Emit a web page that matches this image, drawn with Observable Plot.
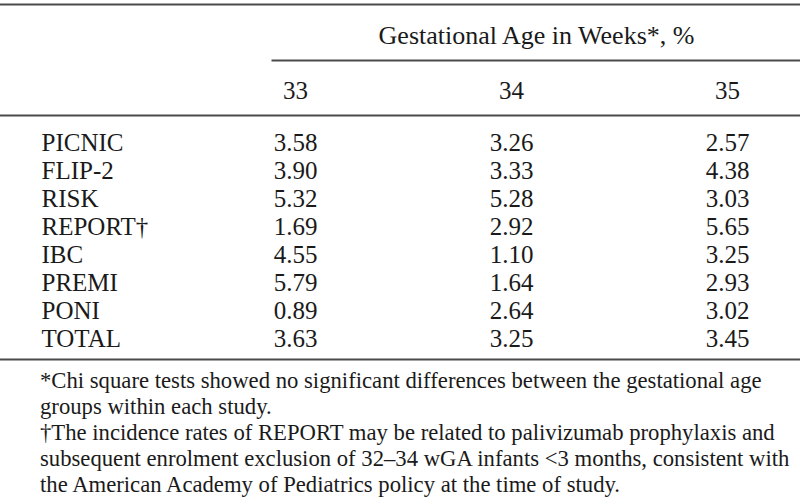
<!DOCTYPE html>
<html>
<head>
<meta charset="utf-8">
<script src="https://cdn.jsdelivr.net/npm/d3@7"></script>
<script src="https://cdn.jsdelivr.net/npm/@observablehq/plot@0.6"></script>
<style>
  html, body { margin: 0; padding: 0; background: #fff; }
  #chart svg { display: block; }
  .notes {
    font-family: "Liberation Serif", serif;
    font-size: 22.7px;
    line-height: 26px;
    color: #1a1a1a;
    padding-left: 40px;
    margin-top: 6px;
    white-space: nowrap;
  }
</style>
</head>
<body>
<div id="chart"></div>
<script>
// ---- data ----
const studies = ["PICNIC", "FLIP-2", "RISK", "REPORT†", "IBC", "PREMI", "PONI", "TOTAL"];
const weeks = ["33", "34", "35"];
const wk33 = [3.58, 3.90, 5.32, 1.69, 4.55, 5.79, 0.89, 3.63];
const wk34 = [3.26, 3.33, 5.28, 2.92, 1.10, 1.64, 2.64, 3.25];
const wk35 = [2.57, 4.38, 3.03, 5.65, 3.25, 2.93, 3.02, 3.45];
const groupHeader = "Gestational Age in Weeks*, %";
const footnotes = [
  "*Chi square tests showed no significant differences between the gestational age",
  "groups within each study.",
  "†The incidence rates of REPORT may be related to palivizumab prophylaxis and",
  "subsequent enrolment exclusion of 32–34 wGA infants <3 months, consistent with",
  "the American Academy of Pediatrics policy at the time of study."
];

const series = [wk33, wk34, wk35];
const cells = studies.flatMap((s, i) => weeks.map((w, j) => ({study: s, week: w, value: series[j][i]})));

const ink = "#1a1a1a";
const ruleColor = "#4a4a4a";
const font = "Liberation Serif, serif";
const fs = 25;

const chart = Plot.plot({
  width: 800,
  height: 362,
  margin: 0,
  style: {fontFamily: font, color: ink, background: "#fff"},
  x: {type: "point", domain: weeks, range: [294, 727], padding: 0, axis: null},
  y: {type: "point", domain: studies, range: [142, 338], padding: 0, axis: null},
  marks: [
    Plot.frame({anchor: "top", insetTop: 4, stroke: ruleColor, strokeWidth: 2}),
    Plot.frame({anchor: "top", insetTop: 60, insetLeft: 272, stroke: ruleColor, strokeWidth: 2}),
    Plot.frame({anchor: "top", insetTop: 115, stroke: ruleColor, strokeWidth: 2}),
    Plot.frame({anchor: "bottom", insetBottom: 3, stroke: ruleColor, strokeWidth: 2}),
    Plot.text([groupHeader], {text: d => d, frameAnchor: "top", lineAnchor: "middle", dx: 136, dy: 35, fontSize: 26, fill: ink}),
    Plot.text(weeks, {x: d => d, text: d => d, frameAnchor: "top", lineAnchor: "middle", dy: 90, fontSize: fs, fill: ink}),
    Plot.text(studies, {y: d => d, text: d => d, frameAnchor: "left", dx: 41, textAnchor: "start", fontSize: fs, fill: ink}),
    Plot.text(cells, {x: "week", y: "study", text: d => d.value.toFixed(2), fontSize: fs, fill: ink})
  ]
});
document.getElementById("chart").appendChild(chart);

const notes = document.createElement("div");
notes.className = "notes";
notes.innerHTML = footnotes.map(t => `<div>${t.replace(/</g, "&lt;")}</div>`).join("");
document.body.appendChild(notes);
</script>
</body>
</html>
